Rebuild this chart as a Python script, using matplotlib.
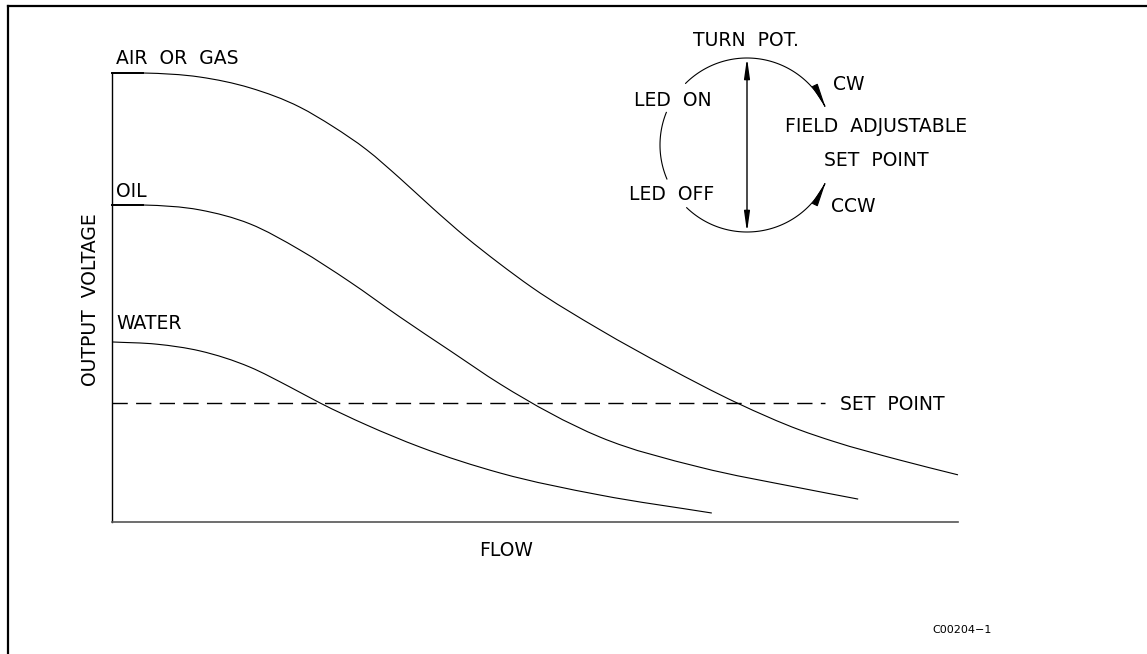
import numpy as np
import matplotlib
matplotlib.use("Agg")
import matplotlib.pyplot as plt
from matplotlib.patches import FancyArrowPatch, PathPatch
from matplotlib.path import Path

# ---- data (flow 0..100, output voltage 0..100) ----
air_flow = [0, 3.7, 10.4, 16.3, 22.2, 26.1, 30.1, 34.0, 37.9, 41.8, 45.7, 49.6,
            57.7, 65.6, 73.9, 81.3, 85.2, 93.1, 100]
air_volt = [100, 100, 99.1, 96.7, 92.4, 88.1, 82.9, 76.6, 69.9, 63.5, 57.7, 52.3,
            42.8, 34.5, 26.5, 20.5, 18.0, 13.8, 10.5]
oil_flow = [0, 3.7, 10.4, 16.3, 22.2, 28.1, 34.0, 40.0, 45.9, 57.7, 69.5, 81.3, 88.2]
oil_volt = [70.6, 70.6, 69.5, 66.4, 60.6, 53.5, 45.7, 38.1, 30.7, 18.9, 12.2, 7.6, 5.1]
water_flow = [0, 5.3, 10.4, 16.3, 21.0, 24.6, 30.1, 36.4, 45.9, 57.7, 70.9]
water_volt = [40.1, 39.6, 38.1, 34.5, 30.1, 26.5, 21.6, 16.7, 10.9, 6.0, 2.0]
set_point = 26.5
set_point_end = 84.3
series_labels = ["AIR  OR  GAS", "OIL", "WATER"]

W, H = 1147, 654
fig = plt.figure(figsize=(W / 100, H / 100), dpi=100)
fig.patch.set_facecolor("white")

# overlay in pixel coordinates for frame, labels and diagram
ov = fig.add_axes([0, 0, 1, 1])
ov.set_xlim(0, W)
ov.set_ylim(H, 0)
ov.axis("off")

# main plot axes
x0, x1, ytop, ybot = 112, 958, 73, 522
ax = fig.add_axes([x0 / W, (H - ybot) / H, (x1 - x0) / W, (ybot - ytop) / H])
ax.patch.set_alpha(0)
ax.set_xlim(0, 100)
ax.set_ylim(0, 100)
for s in ["top", "right"]:
    ax.spines[s].set_visible(False)
ax.spines["left"].set_linewidth(1.0)
ax.spines["bottom"].set_linewidth(1.2)
ax.spines["bottom"].set_color("#555555")
ax.set_xticks([])
ax.set_yticks([])


def smooth_path(xs, ys):
    """Cubic Hermite curve through the points (tangents from neighbouring secants)."""
    x = np.asarray(xs, float)
    y = np.asarray(ys, float)
    h = np.diff(x)
    d = np.diff(y) / h
    m = np.empty_like(x)
    m[0], m[-1] = d[0], d[-1]
    for i in range(1, len(x) - 1):
        m[i] = (h[i - 1] * d[i] + h[i] * d[i - 1]) / (h[i - 1] + h[i])
    verts = [(x[0], y[0])]
    codes = [Path.MOVETO]
    for i in range(len(x) - 1):
        verts += [(x[i] + h[i] / 3, y[i] + m[i] * h[i] / 3),
                  (x[i + 1] - h[i] / 3, y[i + 1] - m[i + 1] * h[i] / 3),
                  (x[i + 1], y[i + 1])]
        codes += [Path.CURVE4] * 3
    return Path(verts, codes)


for f, v in [(air_flow, air_volt), (oil_flow, oil_volt), (water_flow, water_volt)]:
    ax.add_patch(PathPatch(smooth_path(f, v), facecolor="none", edgecolor="black",
                           lw=0.8, clip_on=False))
# stubs at the start of air and oil
ax.plot(air_flow[:2], air_volt[:2], color="black", lw=1.4, clip_on=False)
ax.plot(oil_flow[:2], oil_volt[:2], color="black", lw=1.4, clip_on=False)
ax.plot([0, set_point_end], [set_point, set_point], color="black", lw=1.0,
        dashes=(11, 6), clip_on=False)

font = dict(family="DejaVu Sans", color="black")
fs = 13.5
# frame lines
ov.plot([8, W], [6, 6], color="black", lw=1.6)
ov.plot([8, 8], [6, H], color="black", lw=1.6)

ov.text(116, 64, series_labels[0], fontsize=fs, ha="left", va="baseline", **font)
ov.text(116, 197, series_labels[1], fontsize=fs, ha="left", va="baseline", **font)
ov.text(116, 329, series_labels[2], fontsize=fs, ha="left", va="baseline", **font)
ov.text(90, 300, "OUTPUT  VOLTAGE", fontsize=fs, ha="center", va="center", rotation=90, **font)
ov.text(506, 551, "FLOW", fontsize=fs, ha="center", va="center", **font)
ov.text(840, 405, "SET  POINT", fontsize=fs, ha="left", va="center", **font)
ov.text(962, 630, "C00204\u22121", fontsize=8, ha="center", va="center", **font)

# diagram
ov.text(746, 41, "TURN  POT.", fontsize=fs, ha="center", va="center", **font)
ov.text(849, 85, "CW", fontsize=fs, ha="center", va="center", **font)
ov.text(673, 100, "LED  ON", fontsize=fs, ha="center", va="center", **font)
ov.text(876, 127, "FIELD  ADJUSTABLE", fontsize=fs, ha="center", va="center", **font)
ov.text(876, 160, "SET  POINT", fontsize=fs, ha="center", va="center", **font)
ov.text(672, 195, "LED  OFF", fontsize=fs, ha="center", va="center", **font)
ov.text(853, 207, "CCW", fontsize=fs, ha="center", va="center", **font)

cx, cy, r = 747, 145, 87


def arc(a0, a1, n=80):
    t = np.radians(np.linspace(a0, a1, n))
    return np.column_stack([cx + r * np.cos(t), cy - r * np.sin(t)])


# top arc with arrow (clockwise)
ov.add_patch(FancyArrowPatch(path=Path(arc(135, 25)),
                             arrowstyle="-|>,head_length=15,head_width=1.9",
                             mutation_scale=1, lw=0.8, color="black"))
# left arc (plain)
p = arc(158, 203)
ov.plot(p[:, 0], p[:, 1], color="black", lw=0.8)
# bottom arc with arrow (counter-clockwise)
ov.add_patch(FancyArrowPatch(path=Path(arc(226, 335)),
                             arrowstyle="-|>,head_length=15,head_width=1.9",
                             mutation_scale=1, lw=0.8, color="black"))
# vertical double arrow
ov.add_patch(FancyArrowPatch((cx, cy - r), (cx, cy + r),
                             arrowstyle="<|-|>,head_length=12,head_width=1.7",
                             mutation_scale=1, lw=1.0, color="black",
                             shrinkA=0, shrinkB=0))

fig.savefig("out.png", dpi=100)
